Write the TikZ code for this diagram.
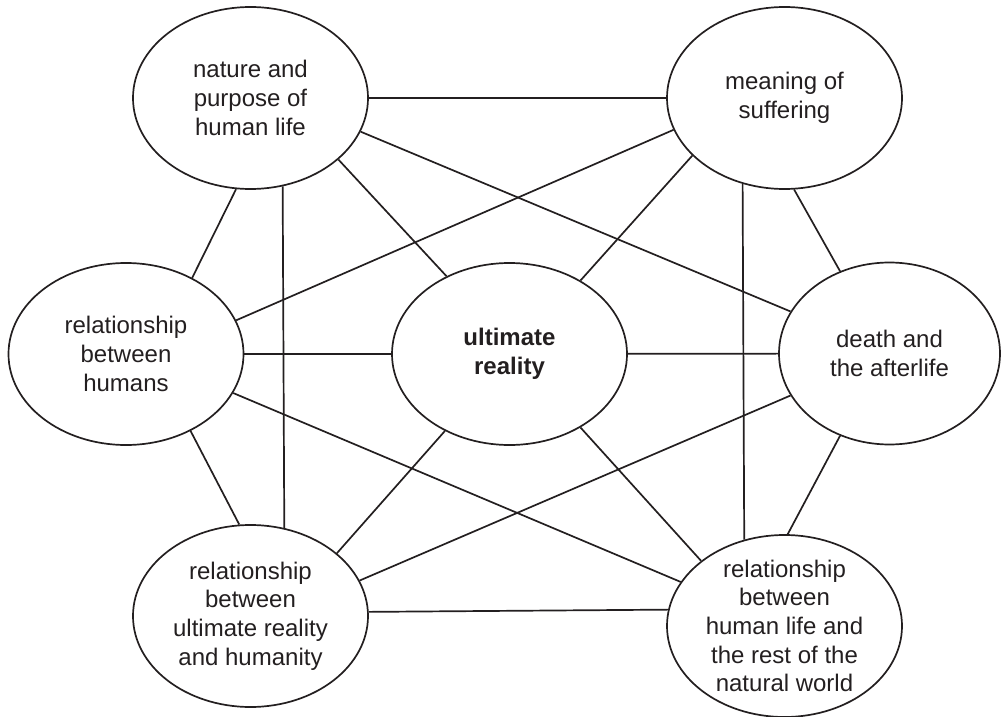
\documentclass[tikz,border=0pt]{standalone}
\usepackage{fontspec}
\setmainfont{Liberation Sans}
\usetikzlibrary{shapes.geometric}
\definecolor{ink}{RGB}{35,31,32}
\begin{document}
\begin{tikzpicture}[x=0.5pt,y=-0.5pt,line width=0.85pt,color=ink]
\tikzset{
  topic/.style={draw,shape=ellipse,inner sep=0pt,minimum width=117.5pt,minimum height=91pt,align=center,font=\fontsize{12}{14.3}\selectfont}
}
\useasboundingbox (0,0) rectangle (1002,717);
\node[topic] (nature) at (250.5,98) {nature and\\purpose of\\human life};
\node[topic] (suffering) at (784.5,98) {meaning of\\suffering};
\node[topic] (humans) at (126,354) {relationship\\between\\humans};
\node[topic,font=\fontsize{12}{14.3}\selectfont\bfseries] (reality) at (509.5,354) {ultimate\\reality};
\node[topic,minimum width=110.5pt] (death) at (889.5,353.5) {death and\\the afterlife};
\node[topic] (humanity) at (250.5,616) {relationship\\between\\ultimate reality\\and humanity};
\node[topic,inner ysep=-3pt] (world) at (784.5,626) {relationship\\between\\human life and\\the rest of the\\natural world};
% every topic is tied to the others
\draw (nature) -- (suffering);
\draw (nature.343.4) -- (death.157.9);
\draw (nature.325) -- (reality.129.9);
\draw (nature.290.1) -- (humanity.69.7);
\draw (nature.261.7) -- (humans.49);
\draw (suffering.196) -- (humans.17.7);
\draw (suffering.212.8) -- (reality.46);
\draw (suffering.244.8) -- (world.115.2);
\draw (suffering.276.5) -- (death.121.1);
\draw (humans) -- (reality);
\draw (humans.310.2) -- (humanity.97.2);
\draw (humans.340.3) -- (world.157.6);
\draw (reality) -- (death);
\draw (reality.230.5) -- (humanity.36.5);
\draw (reality.314) -- (world.142.9);
\draw (death.203.8) -- (humanity.18.8);
\draw (death.239.9) -- (world.88.4);
\draw (humanity.2.4) -- (world.172.7);
\end{tikzpicture}
\end{document}
